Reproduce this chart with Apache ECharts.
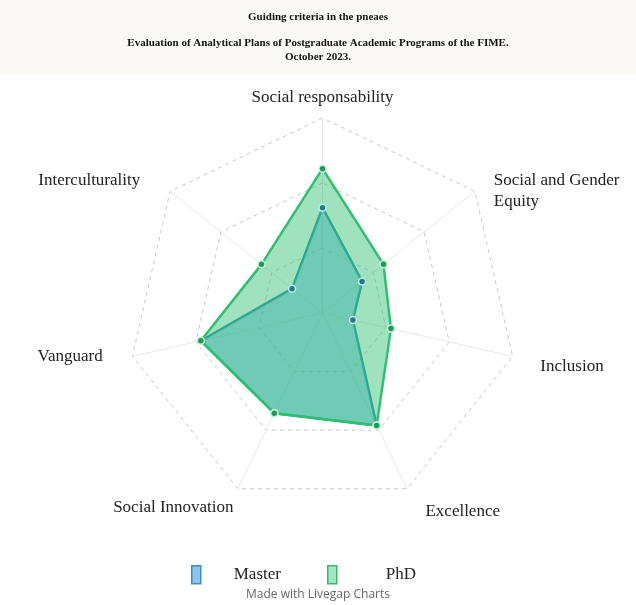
<!DOCTYPE html>
<html>
<head>
<meta charset="utf-8">
<script src="https://cdn.jsdelivr.net/npm/echarts@6/dist/echarts.min.js"></script>
<style>
  html, body { margin: 0; padding: 0; background: #fff; }
  #chart { width: 636px; height: 605px; }
</style>
</head>
<body>
<div id="chart"></div>
<script>
// indicators, counterclockwise from the top (echarts lays radar axes out that way)
const categories = ['Social responsability', 'Interculturality', 'Vanguard', 'Social Innovation', 'Excellence', 'Inclusion', 'Social and Gender\nEquity'];
const maxValue = 100;
const master = [54, 20, 64, 57, 64, 16, 26];
const phd = [74, 40, 64, 57, 64, 36, 40];

const serif = "'Liberation Serif', 'Times New Roman', serif";

// label nudges so the names sit like in the original
const nameStyle = {
  top: { padding: [0, 0, 0, 0] },
  inter: { padding: [0, 22, 10, 0] },
  vang: { padding: [0, 20, 5, 0] },
  inno: { padding: [20, 0, 0, 0] },
  exc: { padding: [28, 0, 0, 14] },
  incl: { padding: [15, 0, 0, 18] },
  sgeA: { padding: [0, 0, 0, 11], height: 21 },
  sgeB: { padding: [0, 0, 0, 11], height: 21 },
};
const nameKey = ['top', 'inter', 'vang', 'inno', 'exc', 'incl', 'sge'];
Object.keys(nameStyle).forEach(function (k) {
  nameStyle[k].fontFamily = serif;
  nameStyle[k].fontSize = 17;
  nameStyle[k].color = '#222';
  nameStyle[k].lineHeight = 21;
});
// spacer line to push the two-line label down a bit
nameStyle.sp = { fontSize: 8, height: 12, lineHeight: 12 };

const titleFont = { fontFamily: serif, fontSize: 11, fontWeight: 'bold', color: '#111' };

const chart = echarts.init(document.getElementById('chart'));
const option = {
  backgroundColor: '#fff',
  animation: false,
  graphic: [
    {
      type: 'rect',
      z: -10,
      shape: { x: 0, y: 0, width: 636, height: 75 },
      style: { fill: '#fbf9f5' },
    },
  ],
  title: [
    { text: 'Guiding criteria in the pneaes', left: 'center', top: 7, textStyle: titleFont },
    { text: 'Evaluation of Analytical Plans of Postgraduate Academic Programs of the FIME.', left: 'center', top: 33, textStyle: titleFont },
    { text: 'October 2023.', left: 'center', top: 47, textStyle: titleFont },
    {
      text: 'Made with Livegap Charts',
      left: 'center',
      top: 584,
      textStyle: { fontFamily: "'Open Sans', sans-serif", fontSize: 12, fontWeight: 'normal', color: '#666' },
    },
  ],
  legend: [
    {
      left: 186,
      top: 560,
      icon: 'rect',
      itemWidth: 9,
      itemHeight: 18,
      data: [{ name: 'Master', itemStyle: { color: 'rgba(110,185,230,0.8)', borderColor: '#3a8fc0', borderWidth: 1.5 } }],
      textStyle: { fontFamily: serif, fontSize: 17, color: '#222', padding: [0, 0, 0, 28] },
    },
    {
      left: 322,
      top: 560,
      icon: 'rect',
      itemWidth: 9,
      itemHeight: 18,
      data: [{ name: 'PhD', itemStyle: { color: 'rgba(140,225,175,0.8)', borderColor: '#35b86a', borderWidth: 1.5 } }],
      textStyle: { fontFamily: serif, fontSize: 17, color: '#222', padding: [0, 0, 0, 44] },
    },
  ],
  radar: {
    center: [322.5, 313],
    radius: 195,
    shape: 'polygon',
    splitNumber: 3,
    nameGap: 10,
    indicator: categories.map(function (c) {
      return { name: c, max: maxValue, min: 0 };
    }),
    axisName: {
      lineHeight: 21,
      formatter: function (name) {
        const k = nameKey[categories.indexOf(name)];
        if (k === 'sge') {
          const parts = name.split('\n');
          return '{sp| }\n{sgeA|' + parts[0] + '}\n{sgeB|' + parts[1] + '}';
        }
        return '{' + k + '|' + name + '}';
      },
      rich: nameStyle,
    },
    splitArea: { show: false },
    splitLine: { lineStyle: { color: '#c8c8c8', type: [4, 4], width: 1 } },
    axisLine: { lineStyle: { color: '#e8e8e8', width: 1 } },
  },
  series: [
    {
      type: 'radar',
      symbol: 'circle',
      symbolSize: 7,
      data: [
        {
          name: 'Master',
          value: master,
          lineStyle: { color: '#2a96a6', width: 2.5 },
          itemStyle: { color: '#1f7d80', borderColor: '#bfeef0', borderWidth: 1.5 },
          areaStyle: { color: 'rgba(60,165,215,0.45)', opacity: 1 },
        },
        {
          name: 'PhD',
          value: phd,
          lineStyle: { color: '#2fbf71', width: 2.5 },
          itemStyle: { color: '#1e9a58', borderColor: '#c4f3d6', borderWidth: 1.5 },
          areaStyle: { color: 'rgba(46,190,110,0.45)', opacity: 1 },
        },
      ],
    },
  ],
};
chart.setOption(option);
</script>
</body>
</html>
